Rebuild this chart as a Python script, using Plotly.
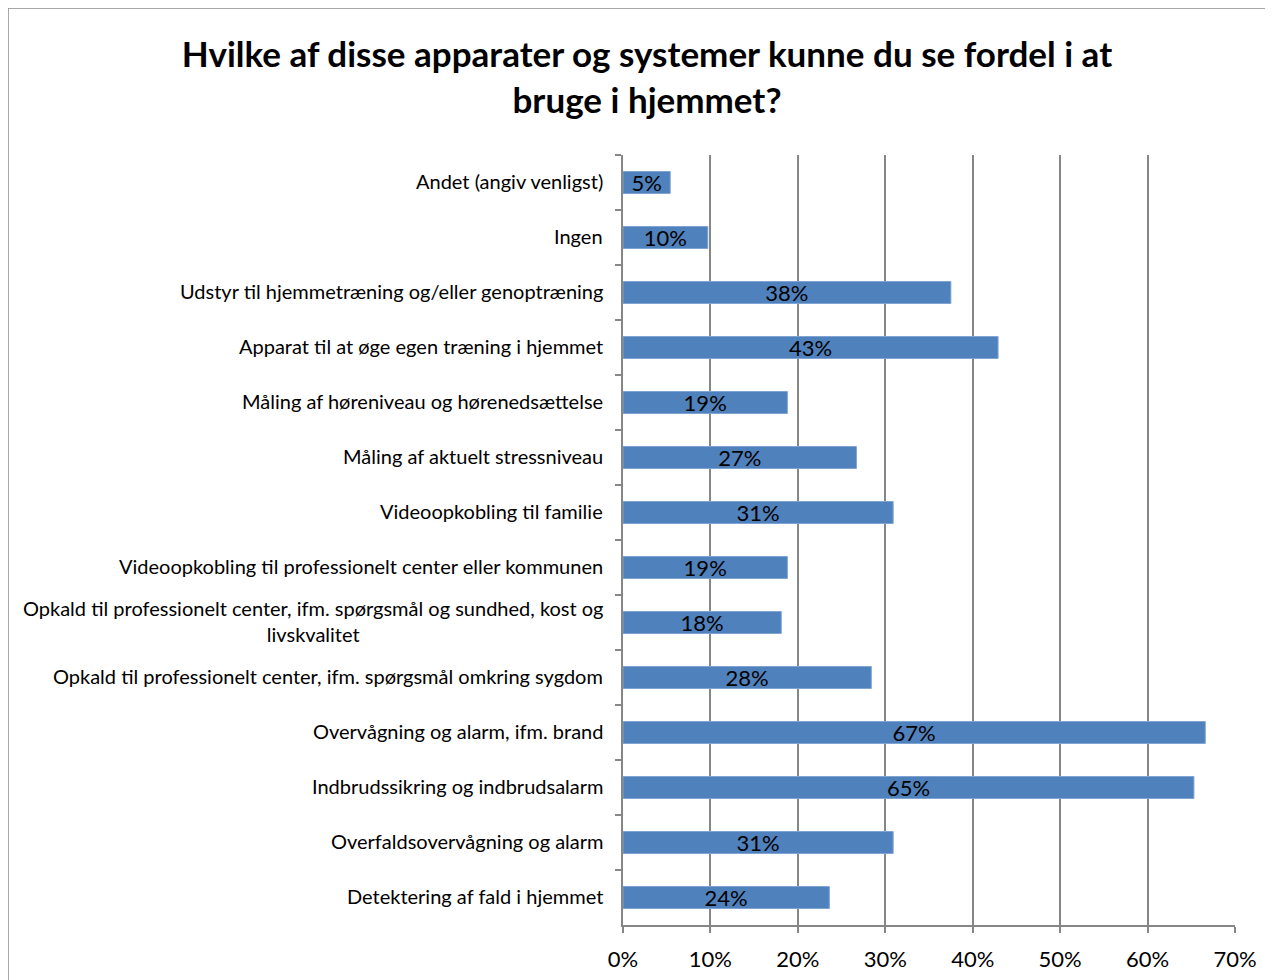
import plotly.graph_objects as go

categories = [
    "Andet (angiv venligst)",
    "Ingen",
    "Udstyr til hjemmetræning og/eller genoptræning",
    "Apparat til at øge egen træning i hjemmet",
    "Måling af høreniveau og hørenedsættelse",
    "Måling af aktuelt stressniveau",
    "Videoopkobling til familie",
    "Videoopkobling til professionelt center eller kommunen",
    "Opkald til professionelt center, ifm. spørgsmål og sundhed, kost og<br>livskvalitet",
    "Opkald til professionelt center, ifm. spørgsmål omkring sygdom",
    "Overvågning og alarm, ifm. brand",
    "Indbrudssikring og indbrudsalarm",
    "Overfaldsovervågning og alarm",
    "Detektering af fald i hjemmet",
]
values = [0.054, 0.097, 0.375, 0.429, 0.188, 0.267, 0.309, 0.188, 0.181, 0.284, 0.666, 0.653, 0.309, 0.236]
x_ticks = [0, 0.1, 0.2, 0.3, 0.4, 0.5, 0.6, 0.7]
x_ticklabels = ["0%", "10%", "20%", "30%", "40%", "50%", "60%", "70%"]
title = "Hvilke af disse apparater og systemer kunne du se fordel i at<br>bruge i hjemmet?"

FONT = "Lato"
OFF = 8  # page body margin
W, H = 1273, 980
L, T = 623 - OFF, 155 - OFF
R = W - (1235 - OFF)
B = H - (925 - OFF)
pw, ph = W - L - R, H - T - B

fig = go.Figure()
fig.add_trace(go.Bar(
    x=values, y=categories, orientation="h",
    width=0.4,
    marker=dict(color="#4F81BD", line=dict(color="#7FA3D3", width=1)),
    texttemplate="%{x:.0%}", textposition="inside", insidetextanchor="middle",
    constraintext="none",
    textfont=dict(family=FONT, size=22, color="black"),
    cliponaxis=False,
))

annotations = []
for c in categories:
    annotations.append(dict(
        x=0, xref="paper", y=c, yref="y", text=c, showarrow=False,
        xanchor="right", yanchor="middle", align="center", xshift=-18, yshift=2,
        font=dict(family=FONT, size=20, color="black"),
    ))

fig.update_layout(
    width=W, height=H,
    margin=dict(l=L, r=R, t=T, b=B),
    paper_bgcolor="white", plot_bgcolor="white",
    title=dict(text=title, x=(647 - OFF) / W, xanchor="center",
               y=1 - (67 - OFF) / H, yanchor="middle",
               font=dict(family=FONT, size=35, color="black", weight="bold")),
    showlegend=False,
    xaxis=dict(range=[0, 0.7], tickvals=x_ticks, ticktext=x_ticklabels,
               showgrid=True, gridcolor="#868686", gridwidth=1.5,
               showline=True, linecolor="#868686", linewidth=1.5,
               ticks="outside", ticklen=6, tickcolor="#868686", tickwidth=1.5,
               ticklabelstandoff=8,
               tickfont=dict(family=FONT, size=22, color="black"), zeroline=False),
    yaxis=dict(autorange="reversed", showticklabels=False, tickson="boundaries",
               ticks="outside", ticklen=6, tickcolor="#868686", tickwidth=1.5,
               showline=True, linecolor="#868686", linewidth=1.5, showgrid=False),
    annotations=annotations,
    shapes=[dict(type="rect", xref="paper", yref="paper",
                 x0=(0 - L) / pw, x1=(W + 20 - L) / pw,
                 y0=-(B + 20) / ph, y1=1 + T / ph,
                 line=dict(color="#8C8C8C", width=1.5), fillcolor="rgba(0,0,0,0)", layer="below")],
)

fig.write_html("out.html")
